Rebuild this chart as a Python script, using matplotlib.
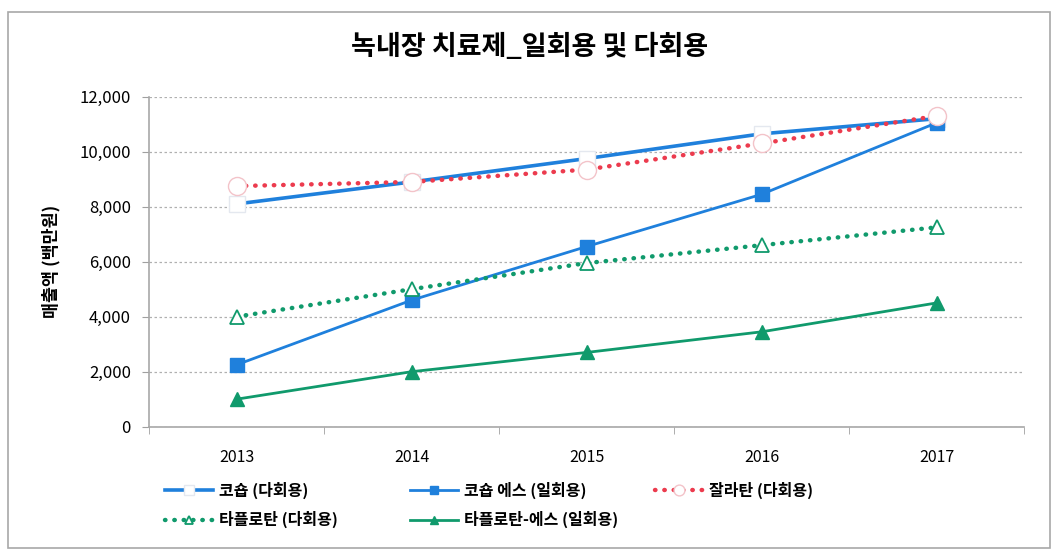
import matplotlib.pyplot as plt
from matplotlib.patches import Rectangle
from matplotlib.ticker import FuncFormatter, MultipleLocator

plt.rcParams['font.family'] = ['Noto Sans CJK KR', 'DejaVu Sans']

# 데이터 (백만원)
years = ['2013', '2014', '2015', '2016', '2017']
cosopt_multi = [8100, 8900, 9750, 10650, 11200]
cosopt_s_single = [2250, 4600, 6550, 8450, 11050]
xalatan_multi = [8750, 8900, 9350, 10300, 11300]
taflotan_multi = [4000, 5000, 5950, 6600, 7250]
taflotan_s_single = [1000, 2000, 2700, 3450, 4500]

blue = '#1f80dc'
red = '#ec3b4e'
green = '#109a6c'

W, H = 1059, 558
fig = plt.figure(figsize=(W / 100, H / 100), dpi=100)
ax = fig.add_axes([0.1407, 0.2353, 0.8263, 0.5914])

x = range(len(years))
dot = (0, (0.1, 2.0))

h1, = ax.plot(x, cosopt_multi, color=blue, lw=2.6, marker='s', ms=12,
              mfc='white', mec='#e4e8ef', mew=1, label='코숍 (다회용)', zorder=3)
h2, = ax.plot(x, cosopt_s_single, color=blue, lw=2.0, marker='s', ms=9.5,
              mfc=blue, mec=blue, label='코숍 에스 (일회용)', zorder=3)
h3, = ax.plot(x, xalatan_multi, color=red, lw=3.2, ls=dot, dash_capstyle='round',
              marker='o', ms=13, mfc='white', mec='#f3c3c9', mew=1,
              label='잘라탄 (다회용)', zorder=4)
h4, = ax.plot(x, taflotan_multi, color=green, lw=3.2, ls=dot, dash_capstyle='round',
              marker='^', ms=10, mfc='white', mec=green, mew=1.3,
              label='타플로탄 (다회용)', zorder=3)
h5, = ax.plot(x, taflotan_s_single, color=green, lw=2.0, marker='^', ms=10,
              mfc=green, mec=green, label='타플로탄-에스 (일회용)', zorder=3)

ax.set_xlim(-0.5, len(years) - 0.5)
ax.set_ylim(0, 12000)
ax.yaxis.set_major_locator(MultipleLocator(2000))
ax.yaxis.set_major_formatter(FuncFormatter(lambda v, p: f'{int(v):,}'))
ax.set_xticks(list(x))
ax.set_xticklabels(years)
ax.set_xticks([i + 0.5 for i in range(-1, len(years))], minor=True)
ax.tick_params(axis='x', which='major', length=0, pad=16, labelsize=11.5)
ax.tick_params(axis='x', which='minor', length=5, color='#a0a0a0')
ax.tick_params(axis='y', length=5, color='#a0a0a0', labelsize=12, pad=8)

ax.grid(axis='y', color='#b0b0b0', ls=(0, (2, 2)), lw=0.9)
ax.set_axisbelow(True)
for s in ['top', 'right']:
    ax.spines[s].set_visible(False)
for s in ['left', 'bottom']:
    ax.spines[s].set_color('#a8a8a8')
    ax.spines[s].set_linewidth(1.2)

ax.set_ylabel('매출액 (백만원)', fontsize=12.5, fontweight='bold', labelpad=14)
fig.suptitle('녹내장 치료제_일회용 및 다회용', x=0.5, y=0.94,
             fontsize=19.5, fontweight='bold')

# 엑셀처럼 열마다 범례를 따로 배치
columns = [([h1, h4], 165), ([h2, h5], 410), ([h3], 655)]
for hs, px in columns:
    fig.legend(hs, [h.get_label() for h in hs],
               loc='upper left', bbox_to_anchor=(px / W, 1 - 482 / H),
               frameon=False, prop={'size': 11.5, 'weight': 'bold'},
               handlelength=3.0, handletextpad=0.4, borderpad=0,
               borderaxespad=0, labelspacing=0.75, markerscale=0.6)

fig.patches.append(Rectangle((8 / W, 10 / H), 1042 / W, 536 / H,
                             transform=fig.transFigure, fill=False,
                             edgecolor='#a8a8a8', lw=1.2))

plt.savefig('out.png', dpi=100)
